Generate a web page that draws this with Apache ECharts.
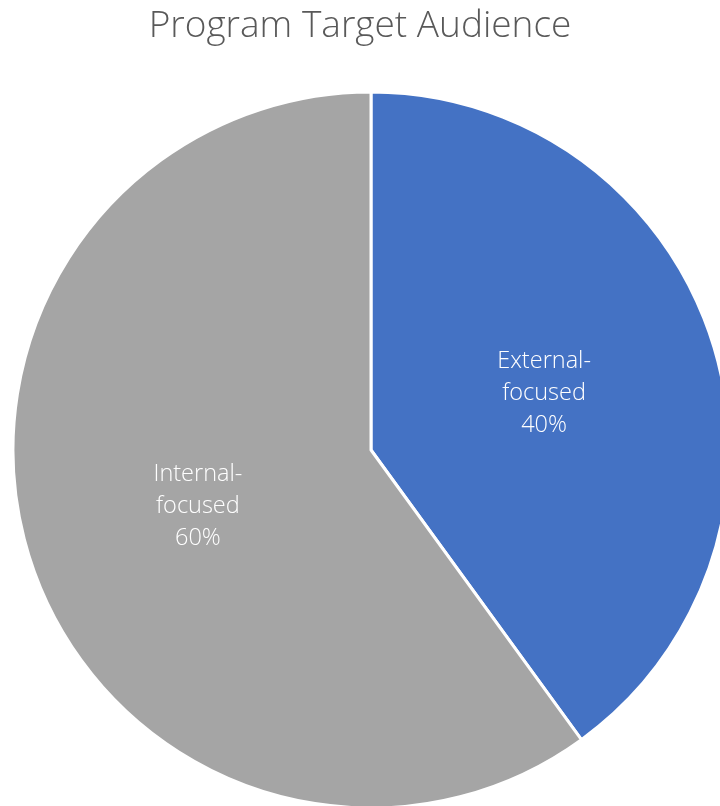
<!DOCTYPE html>
<html>
<head>
<meta charset="utf-8">
<script src="https://cdn.jsdelivr.net/npm/echarts@6/dist/echarts.min.js"></script>
<style>html,body{margin:0;padding:0;background:#fff;}#c{width:720px;height:806px;}</style>
</head>
<body>
<div id="c"></div>
<script>
const categories = ['External-\nfocused', 'Internal-\nfocused'];
const values = [40, 60];
const colors = ['#4472C4', '#A5A5A5'];

const chart = echarts.init(document.getElementById('c'), null, {renderer: 'canvas'});
chart.setOption({
  animation: false,
  backgroundColor: '#ffffff',
  title: {
    text: 'Program Target Audience',
    left: 'center',
    top: 3,
    textStyle: {fontFamily: '"Open Sans", "Noto Sans", sans-serif', fontSize: 37, fontWeight: 300, color: '#595959'}
  },
  series: [{
    type: 'pie',
    center: [371, 450],
    radius: 358,
    startAngle: 90,
    clockwise: true,
    silent: true,
    data: categories.map((c, i) => ({name: c, value: values[i], itemStyle: {color: colors[i]}})),
    itemStyle: {borderColor: '#ffffff', borderWidth: 3},
    label: {
      show: true,
      position: 'inner',
      formatter: p => p.name + '\n' + p.percent.toFixed(0) + '%',
      color: '#ffffff',
      fontFamily: '"Open Sans", "Noto Sans", sans-serif',
      fontSize: 23.5,
      lineHeight: 32,
      fontWeight: 300,
      align: 'center'
    },
    labelLine: {show: false}
  }]
});
</script>
</body>
</html>
